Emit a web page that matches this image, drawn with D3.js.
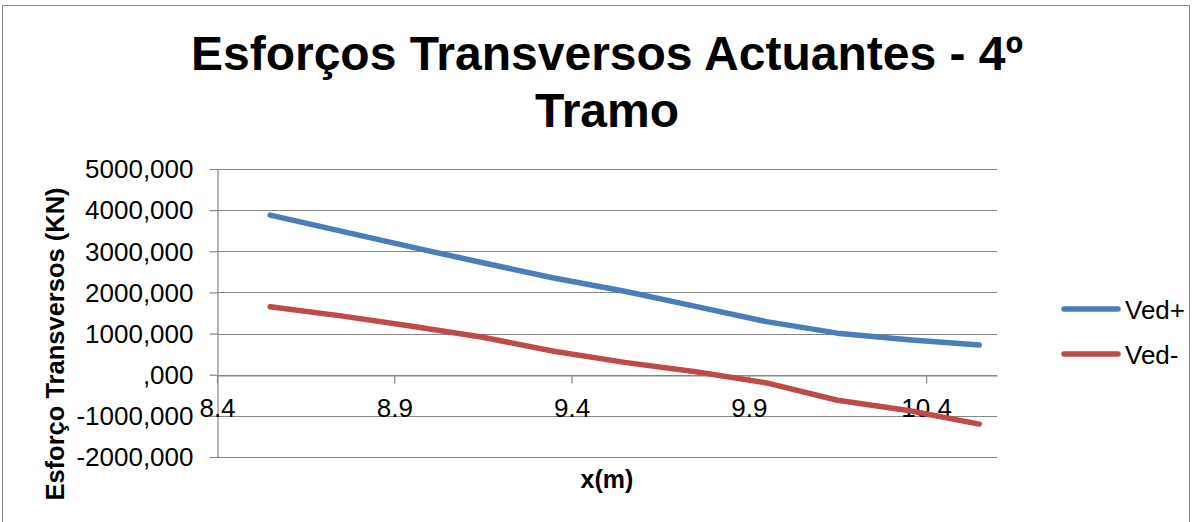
<!DOCTYPE html>
<html>
<head>
<meta charset="utf-8">
<script src="https://cdn.jsdelivr.net/npm/d3@7"></script>
<style>
  html, body { margin: 0; padding: 0; background: #fff; }
  svg { display: block; font-family: "Liberation Sans", Arial, sans-serif; }
</style>
</head>
<body>
<svg id="chart" width="1192" height="522"></svg>
<script>
const chartTitle = ["Esforços Transversos Actuantes - 4º", "Tramo"];
const xAxisTitle = "x(m)";
const yAxisTitle = "Esforço Transversos (KN)";
const seriesNames = ["Ved+", "Ved-"];
const xValues = [8.55, 8.75, 8.95, 9.15, 9.35, 9.55, 9.75, 9.95, 10.15, 10.35, 10.55];
const vedPlus = [3880, 3490, 3100, 2720, 2350, 2030, 1660, 1290, 1010, 850, 720];
const vedMinus = [1650, 1430, 1180, 910, 570, 300, 70, -200, -620, -870, -1200];
const xTicks = [8.4, 8.9, 9.4, 9.9, 10.4];
const xTickLabels = ["8.4", "8.9", "9.4", "9.9", "10.4"];
const yTicks = [-2000, -1000, 0, 1000, 2000, 3000, 4000, 5000];
const yTickLabels = ["-2000,000", "-1000,000", ",000", "1000,000", "2000,000", "3000,000", "4000,000", "5000,000"];
const colors = ["#4A7EBB", "#BE4B48"];

const svg = d3.select("#chart");
const W = 1192, H = 522;
const plot = { left: 217, right: 997, top: 169, bottom: 457 };
const gridColor = "#868686";
const FONT = "'Liberation Sans', Arial, sans-serif";

// chart frame
svg.append("path")
  .attr("d", `M2.5,${H + 2} V5.5 H1189.5 V${H + 2}`)
  .attr("fill", "none").attr("stroke", gridColor).attr("stroke-width", 1);

const x = d3.scaleLinear().domain([8.4, 10.6]).range([plot.left, plot.right]);
const y = d3.scaleLinear().domain([-2000, 5000]).range([plot.bottom, plot.top]);

// gridlines
svg.append("g").selectAll("line").data(yTicks).join("line")
  .attr("x1", plot.left).attr("x2", plot.right)
  .attr("y1", d => Math.round(y(d)) + 0.5).attr("y2", d => Math.round(y(d)) + 0.5)
  .attr("stroke", gridColor).attr("stroke-width", 1.2);

// y axis
const yAxis = svg.append("g").attr("transform", `translate(${plot.left + 0.5},0)`)
  .call(d3.axisLeft(y).tickValues(yTicks).tickSize(8).tickSizeOuter(0).tickPadding(16)
    .tickFormat(d => yTickLabels[yTicks.indexOf(d)]));
yAxis.select(".domain").attr("stroke", gridColor).attr("stroke-width", 1.2);
yAxis.selectAll(".tick line").attr("stroke", gridColor).attr("stroke-width", 1.2);
yAxis.selectAll(".tick text").attr("font-size", 26).attr("fill", "#000")
  .attr("font-family", FONT).attr("dy", "0.34em");

// x axis at y = 0
const xAxis = svg.append("g").attr("transform", `translate(0,${Math.round(y(0)) + 0.5})`)
  .call(d3.axisBottom(x).tickValues(xTicks).tickSize(8).tickSizeOuter(0).tickPadding(15)
    .tickFormat(d => xTickLabels[xTicks.indexOf(d)]));
xAxis.select(".domain").attr("stroke", gridColor).attr("stroke-width", 1.2);
xAxis.selectAll(".tick line").attr("stroke", gridColor).attr("stroke-width", 1.2);
xAxis.selectAll(".tick text").attr("font-size", 26).attr("fill", "#000")
  .attr("font-family", FONT);

// series lines
const series = [vedPlus, vedMinus];
const line = d3.line().x((d, i) => x(xValues[i])).y(d => y(d));
series.forEach((s, k) => {
  svg.append("path").datum(s)
    .attr("d", line)
    .attr("fill", "none")
    .attr("stroke", colors[k])
    .attr("stroke-width", 5.5)
    .attr("stroke-linecap", "round")
    .attr("stroke-linejoin", "round");
});

// title
svg.append("text").attr("x", 607).attr("y", 70)
  .attr("text-anchor", "middle").attr("font-size", 48).attr("font-weight", "bold")
  .text(chartTitle[0]);
svg.append("text").attr("x", 607).attr("y", 127)
  .attr("text-anchor", "middle").attr("font-size", 48).attr("font-weight", "bold")
  .text(chartTitle[1]);

// axis titles
svg.append("text").attr("x", 607).attr("y", 488)
  .attr("text-anchor", "middle").attr("font-size", 25).attr("font-weight", "bold")
  .text(xAxisTitle);
svg.append("text").attr("transform", "translate(64,344) rotate(-90)")
  .attr("text-anchor", "middle").attr("font-size", 25.5).attr("font-weight", "bold")
  .text(yAxisTitle);

// legend
const legendY = [309, 354];
seriesNames.forEach((name, k) => {
  svg.append("line")
    .attr("x1", 1064).attr("x2", 1118)
    .attr("y1", legendY[k]).attr("y2", legendY[k])
    .attr("stroke", colors[k]).attr("stroke-width", 5.5).attr("stroke-linecap", "round");
  svg.append("text").attr("x", 1125).attr("y", legendY[k] + 10)
    .attr("font-size", 26).text(name);
});
</script>
</body>
</html>
